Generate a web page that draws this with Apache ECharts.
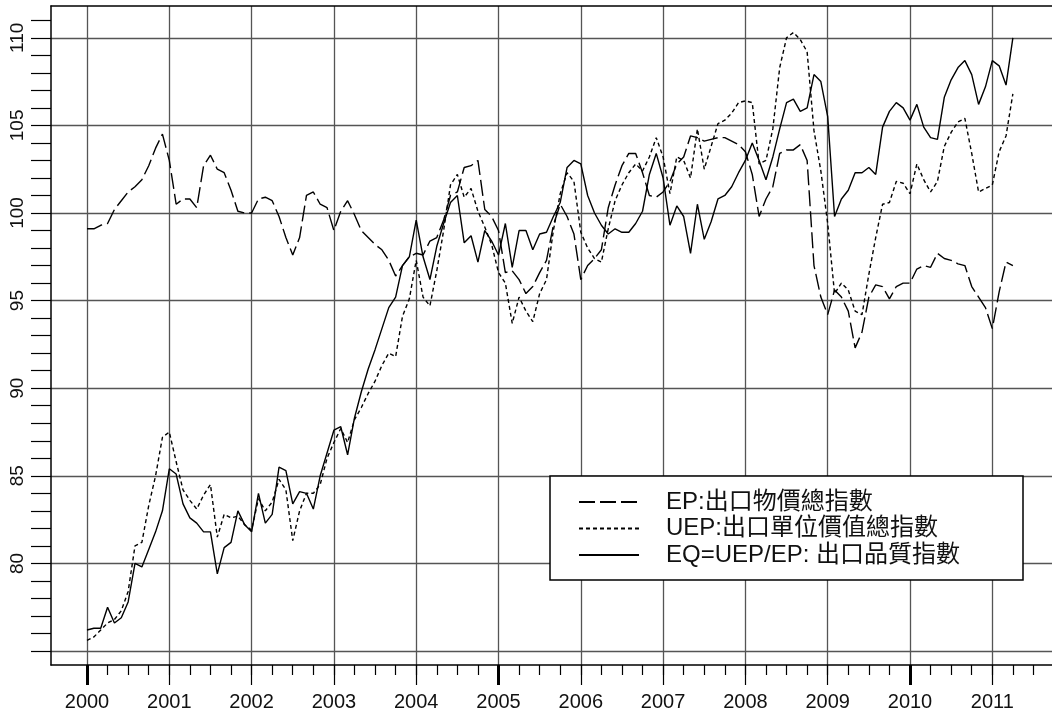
<!DOCTYPE html>
<html><head><meta charset="utf-8">
<script src="https://cdn.jsdelivr.net/npm/echarts@6/dist/echarts.min.js"></script>
<style>html,body{margin:0;padding:0;background:#fff}#c{width:1052px;height:715px}</style>
</head><body><div id="c"></div>
<script>
// ---- data (monthly, Jan 2000 .. Apr 2011) ----
const startYear = 2000;
const seriesNames = ['EP:出口物價總指數', 'UEP:出口單位價值總指數', 'EQ=UEP/EP: 出口品質指數'];
const ep = [
  99.1, 99.1, 99.3, 99.4, 100.2, 100.7, 101.2, 101.5, 101.9, 102.7, 103.7, 104.5,
  103.0, 100.5, 100.8, 100.8, 100.3, 102.7, 103.3, 102.5, 102.3, 101.3, 100.1, 100.0,
  100.0, 100.8, 100.9, 100.7, 99.8, 98.6, 97.6, 98.6, 101.0, 101.2, 100.5, 100.3,
  99.0, 100.1, 100.7, 99.9, 99.0, 98.6, 98.2, 97.9, 97.3, 96.4, 97.0, 97.5,
  97.7, 97.6, 98.4, 98.6, 99.6, 101.0, 101.2, 102.6, 102.7, 103.0, 100.2, 99.8,
  99.0, 96.6, 96.7, 96.2, 95.4, 95.8, 96.6, 97.3, 99.3, 100.5, 99.8, 98.8,
  96.2, 97.0, 97.4, 97.9, 100.3, 101.6, 102.7, 103.4, 103.4, 102.3, 101.0, 100.9,
  101.2, 101.8, 102.8, 103.2, 104.4, 104.3, 104.1, 104.2, 104.3, 104.3, 104.1, 103.9,
  103.5, 102.2, 99.8, 100.8, 101.5, 103.4, 103.6, 103.6, 103.9, 103.0, 97.0, 95.2,
  94.2, 95.6, 95.2, 94.4, 92.3, 93.2, 95.2, 95.9, 95.8, 95.1, 95.8, 96.0,
  96.0, 96.8, 97.0, 96.9, 97.7, 97.4, 97.3, 97.1, 97.0, 95.8, 95.2, 94.6,
  93.4, 95.5, 97.2, 97.0
];
const uep = [
  75.6, 75.8, 76.2, 76.6, 76.8, 77.3, 78.4, 81.0, 81.2, 83.3, 85.0, 87.2,
  87.5, 85.8, 84.2, 83.6, 83.1, 83.9, 84.5, 81.5, 82.8, 82.6, 82.7, 82.2,
  81.9, 83.7, 83.0, 83.5, 84.8, 84.2, 81.3, 83.0, 84.0, 84.0, 84.5, 86.0,
  86.9, 87.7, 86.9, 88.2, 88.9, 89.7, 90.4, 91.3, 92.0, 91.8, 94.1, 95.1,
  97.3, 95.2, 94.7, 96.7, 99.0, 101.6, 102.2, 100.9, 101.4, 100.1, 99.2, 98.2,
  96.6, 96.0, 93.7, 95.2, 94.4, 93.8, 95.4, 96.2, 99.0, 101.1, 102.3, 101.8,
  98.9, 98.0, 97.4, 97.2, 99.1, 100.7, 101.6, 102.3, 102.8, 102.4, 103.2, 104.3,
  103.2, 101.1, 103.2, 103.0, 102.0, 104.8, 102.5, 103.8, 105.1, 105.3, 105.7, 106.3,
  106.4, 106.3, 102.8, 103.0, 104.8, 108.3, 110.0, 110.3, 109.9, 109.2, 104.7, 102.4,
  99.4, 95.4, 96.0, 95.6, 94.4, 94.2, 96.5, 98.6, 100.5, 100.6, 101.8, 101.7,
  101.1, 102.8, 101.9, 101.2, 101.8, 103.8, 104.6, 105.2, 105.4, 103.4, 101.2, 101.4,
  101.6, 103.5, 104.4, 106.8
];
const eq = [
  76.2, 76.3, 76.3, 77.5, 76.6, 76.9, 77.8, 80.0, 79.8, 80.8, 81.8, 83.0,
  85.4, 85.1, 83.4, 82.6, 82.3, 81.8, 81.8, 79.4, 80.9, 81.2, 83.0, 82.2,
  81.8, 84.0, 82.3, 82.8, 85.5, 85.3, 83.4, 84.1, 84.0, 83.1, 85.0, 86.3,
  87.6, 87.8, 86.2, 88.3, 89.8, 91.1, 92.2, 93.4, 94.6, 95.2, 97.0, 97.5,
  99.6, 97.5, 96.2, 98.1, 99.4, 100.6, 101.0, 98.3, 98.7, 97.2, 99.0, 98.4,
  97.6, 99.4, 96.9, 99.0, 99.0, 97.9, 98.8, 98.9, 99.8, 100.6, 102.6, 103.0,
  102.8, 101.0, 100.0, 99.3, 98.8, 99.1, 98.9, 98.9, 99.4, 100.1, 102.2, 103.4,
  102.0, 99.3, 100.4, 99.8, 97.7, 100.5, 98.5, 99.5, 100.8, 101.0, 101.5, 102.3,
  103.0, 104.0, 103.0, 101.9, 103.2, 104.8, 106.3, 106.5, 105.8, 106.0, 107.9, 107.5,
  105.5, 99.8, 100.8, 101.3, 102.3, 102.3, 102.6, 102.2, 104.9, 105.8, 106.3, 106.0,
  105.3, 106.2, 104.9, 104.3, 104.2, 106.6, 107.6, 108.3, 108.7, 107.9, 106.2, 107.2,
  108.7, 108.4, 107.3, 110.0
];
const yearLabels = [2000, 2001, 2002, 2003, 2004, 2005, 2006, 2007, 2008, 2009, 2010, 2011];
const boldYears = [2000, 2005, 2010];
const yLabels = [80, 85, 90, 95, 100, 105, 110];
const yGridValues = [75, 80, 85, 90, 95, 100, 105, 110];

// ---- layout ----
const plotLeft = 51, plotTop = 6, plotBottom = 665, chartH = 715, chartW = 1052;
const pxPerYear = 82.3, x2000 = 87;
const xMin = 2000 - (x2000 - plotLeft) / pxPerYear;
const xMax = xMin + (chartW - plotLeft) / pxPerYear;
const pxPerUnit = 17.52, y75 = 651;
const yMax = 75 + (y75 - plotTop) / pxPerUnit;
const yMin = 75 - (plotBottom - y75) / pxPerUnit;

const quarterTicks = [];
yearLabels.forEach(y => { for (let q = 0; q < 4; q++) quarterTicks.push(y + q / 4); });
const yMinorTicks = [];
for (let v = 75; v <= 111; v++) yMinorTicks.push(v);

const toXY = arr => arr.map((v, i) => [startYear + i / 12, v]);
const FONT = "'Liberation Sans', Arial, 'Noto Sans CJK TC', sans-serif";
const GRIDC = '#555';

const baseX = { type: 'value', min: xMin, max: xMax, gridIndex: 0 };
const baseY = { type: 'value', min: yMin, max: yMax, gridIndex: 0 };

const chart = echarts.init(document.getElementById('c'), null, { renderer: 'canvas' });
chart.setOption({
  animation: false,
  backgroundColor: '#fff',
  grid: { left: plotLeft, right: 0, top: plotTop, bottom: chartH - plotBottom, containLabel: false },
  xAxis: [
    Object.assign({}, baseX, {
      position: 'bottom',
      axisLine: { show: true, onZero: false, lineStyle: { color: '#000', width: 1.5 } },
      axisTick: { show: true, length: 10, customValues: quarterTicks, lineStyle: { color: '#000', width: 1.2 } },
      axisLabel: { show: true, customValues: yearLabels, formatter: v => String(Math.round(v)), margin: 27,
        fontSize: 20, fontFamily: FONT, color: '#111' },
      splitLine: { show: false }
    }),
    Object.assign({}, baseX, {
      position: 'bottom',
      axisLine: { show: false, onZero: false },
      axisTick: { show: true, length: 20, customValues: yearLabels, lineStyle: { color: '#000', width: 1.2 } },
      axisLabel: { show: false },
      splitLine: { show: true, lineStyle: { color: GRIDC, width: 1.3 } }
    }),
    Object.assign({}, baseX, {
      position: 'bottom',
      axisLine: { show: false, onZero: false },
      axisTick: { show: true, length: 20, customValues: boldYears, lineStyle: { color: '#000', width: 3 } },
      axisLabel: { show: false },
      splitLine: { show: false }
    }),
    Object.assign({}, baseX, {
      position: 'top',
      axisLine: { show: true, onZero: false, lineStyle: { color: '#000', width: 1.5 } },
      axisTick: { show: false },
      axisLabel: { show: false },
      splitLine: { show: false }
    })
  ],
  yAxis: [
    Object.assign({}, baseY, {
      position: 'left',
      axisLine: { show: true, onZero: false, lineStyle: { color: '#000', width: 1.5 } },
      axisTick: { show: true, length: 20, customValues: yMinorTicks, lineStyle: { color: '#000', width: 1.2 } },
      axisLabel: { show: true, customValues: yLabels, rotate: 90, margin: 24, fontSize: 19,
        fontFamily: FONT, color: '#111', formatter: v => String(Math.round(v)) },
      splitLine: { show: false }
    }),
    Object.assign({}, baseY, {
      position: 'left',
      axisLine: { show: false, onZero: false },
      axisTick: { show: false, customValues: yGridValues },
      axisLabel: { show: false },
      splitLine: { show: true, lineStyle: { color: GRIDC, width: 1.3 } }
    })
  ],
  legend: {
    orient: 'vertical',
    left: 578, top: 490,
    padding: 0,
    itemWidth: 60, itemHeight: 14, itemGap: 2.5,
    itemStyle: { opacity: 0 },
    data: seriesNames,
    textStyle: { fontSize: 24, fontFamily: FONT, color: '#111', lineHeight: 24, padding: [0, 0, 0, 22] },
    selectedMode: false,
    z: 20
  },
  graphic: [{
    type: 'rect', z: 15,
    shape: { x: 550, y: 476, width: 473, height: 104 },
    style: { fill: '#fff', stroke: '#000', lineWidth: 1.5 }
  }],
  series: [
    { name: seriesNames[0], type: 'line', data: toXY(ep), symbol: 'none', xAxisIndex: 0, yAxisIndex: 0,
      lineStyle: { color: '#000', width: 1.4, type: [16, 5] }, itemStyle: { color: '#000' } },
    { name: seriesNames[1], type: 'line', data: toXY(uep), symbol: 'none', xAxisIndex: 0, yAxisIndex: 0,
      lineStyle: { color: '#000', width: 1.4, type: [4, 3] }, itemStyle: { color: '#000' } },
    { name: seriesNames[2], type: 'line', data: toXY(eq), symbol: 'none', xAxisIndex: 0, yAxisIndex: 0,
      lineStyle: { color: '#000', width: 1.4, type: 'solid' }, itemStyle: { color: '#000' } }
  ]
});
</script></body></html>
